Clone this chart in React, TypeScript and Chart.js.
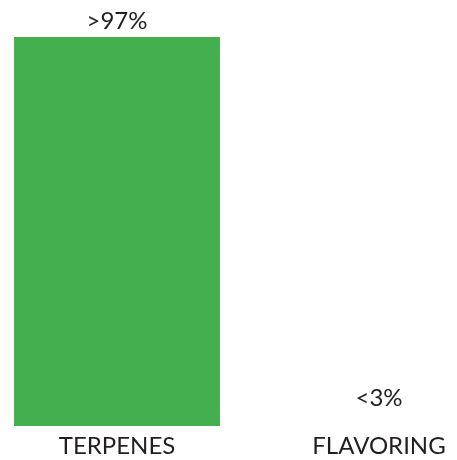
import React, { useEffect, useRef } from "react";
import { Chart, registerables } from "chart.js";

Chart.register(...registerables);

const categories = ["TERPENES", "FLAVORING"];
const values = [97, 3];
const valueLabels = [">97%", "<3%"];
const barColors = ["#44AF4E", "rgba(0,0,0,0)"];

const FONT = "Lato, 'Open Sans', sans-serif";
const TEXT = "#231F20";

const valueLabelPlugin = {
  id: "valueLabels",
  afterDatasetsDraw(chart: any) {
    const { ctx } = chart;
    const meta = chart.getDatasetMeta(0);
    ctx.save();
    ctx.font = `24px ${FONT}`;
    ctx.fillStyle = TEXT;
    ctx.textAlign = "center";
    ctx.textBaseline = "alphabetic";
    meta.data.forEach((el: any, i: number) => {
      ctx.fillText(valueLabels[i], el.x, el.y - 8);
    });
    ctx.restore();
  },
};

export default function App() {
  const ref = useRef<HTMLCanvasElement>(null);
  useEffect(() => {
    if (!ref.current) return;
    const chart = new Chart(ref.current, {
      type: "bar",
      data: {
        labels: categories,
        datasets: [
          {
            data: values,
            backgroundColor: barColors,
            borderWidth: 0,
            categoryPercentage: 1,
            barPercentage: 0.786,
            clip: false,
          } as any,
        ],
      },
      options: {
        responsive: false,
        animation: false,
        layout: { padding: { left: 109, right: 78, top: 17, bottom: 0 } },
        plugins: { legend: { display: false }, tooltip: { enabled: false } },
        scales: {
          x: {
            offset: false,
            grid: { display: false, drawTicks: false, tickLength: 0 },
            border: { display: false },
            ticks: {
              color: TEXT,
              font: { family: FONT, size: 24 },
              padding: 5.6,
              maxRotation: 0,
              autoSkip: false,
            },
          },
          y: {
            display: false,
            min: 0,
            max: 100,
          },
        },
      },
      plugins: [valueLabelPlugin],
    });
    return () => chart.destroy();
  }, []);
  return <canvas ref={ref} width={449} height={458} style={{ display: "block" }} />;
}
